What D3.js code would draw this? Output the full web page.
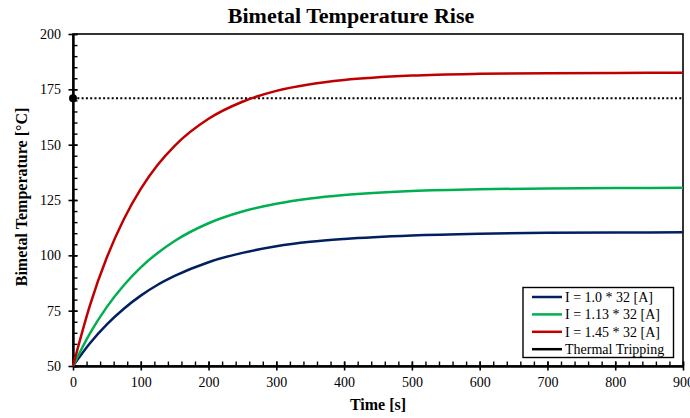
<!DOCTYPE html>
<html>
<head>
<meta charset="utf-8">
<script src="https://cdn.jsdelivr.net/npm/d3@7"></script>
<style>
  body { margin: 0; background: #fff; }
  svg { display: block; font-family: "Liberation Serif", "Times New Roman", serif; }
  .axis text { font-size: 14px; fill: #000; font-family: "Liberation Serif", "Times New Roman", serif; }
  .axis path, .axis line { stroke: #000; }
</style>
</head>
<body>
<svg id="chart" width="690" height="418"></svg>
<script>
// values
const times = [0, 25, 50, 75, 100, 125, 150, 200, 250, 300, 350, 400, 500, 600, 700, 800, 900];
const tempLow = [50, 60.3, 68.8, 75.9, 81.8, 86.7, 90.7, 96.9, 101.1, 104.1, 106.1, 107.4, 109.0, 109.8, 110.2, 110.3, 110.4];
const tempMid = [50, 64.7, 76.7, 86.5, 94.6, 101.1, 106.5, 114.5, 119.8, 123.3, 125.7, 127.3, 129.1, 129.9, 130.2, 130.4, 130.5];
const tempHigh = [50, 77.4, 99.1, 116.3, 130.0, 140.9, 149.5, 161.7, 169.4, 174.3, 177.3, 179.2, 181.2, 182.0, 182.3, 182.4, 182.5];
const trippingTemp = 171;

const seriesNames = ["I = 1.0 * 32 [A]", "I = 1.13 * 32 [A]", "I = 1.45 * 32 [A]", "Thermal Tripping"];
const seriesColors = ["#002060", "#00B050", "#C00000", "#000000"];

const xTicks = [0, 100, 200, 300, 400, 500, 600, 700, 800, 900];
const yTicks = [50, 75, 100, 125, 150, 175, 200];

const svg = d3.select("#chart");
const margin = { top: 34, right: 7, bottom: 52, left: 73 };
const width = 690 - margin.left - margin.right;
const height = 418 - margin.top - margin.bottom;

const x = d3.scaleLinear().domain([0, 900]).range([0, width]);
const y = d3.scaleLinear().domain([50, 200]).range([height, 0]);

const g = svg.append("g").attr("transform", `translate(${margin.left},${margin.top})`);

// frame
g.append("rect")
  .attr("width", width)
  .attr("height", height)
  .attr("fill", "none")
  .attr("stroke", "#000")
  .attr("stroke-width", 1.6);

// minor ticks (inside)
g.append("g")
  .attr("class", "axis")
  .attr("transform", `translate(0,${height})`)
  .call(d3.axisBottom(x).tickValues(d3.range(0, 901, 20)).tickSize(-4.5).tickFormat(""))
  .call((s) => s.select(".domain").remove())
  .selectAll("line").attr("stroke-width", 1.4);

g.append("g")
  .attr("class", "axis")
  .call(d3.axisLeft(y).tickValues(d3.range(50, 201, 5)).tickSize(-4.5).tickFormat(""))
  .call((s) => s.select(".domain").remove())
  .selectAll("line").attr("stroke-width", 1.4);

// major axes
const xAxis = g.append("g")
  .attr("class", "axis")
  .attr("transform", `translate(0,${height})`)
  .call(d3.axisBottom(x).tickValues(xTicks).tickSizeOuter(0));
xAxis.select(".domain").attr("stroke-width", 2.4);
xAxis.selectAll(".tick line").attr("y1", -4.5).attr("y2", 4.5).attr("stroke-width", 1.6);
xAxis.selectAll(".tick text").attr("y", 21).attr("dy", 0);

const yAxis = g.append("g")
  .attr("class", "axis")
  .call(d3.axisLeft(y).tickValues(yTicks).tickSizeOuter(0));
yAxis.select(".domain").attr("stroke-width", 2.4);
yAxis.selectAll(".tick line").attr("x1", -4.5).attr("x2", 4.5).attr("stroke-width", 1.6);
yAxis.selectAll(".tick text").attr("x", -12);

// thermal tripping threshold
g.append("line")
  .attr("x1", x(0))
  .attr("x2", x(900))
  .attr("y1", y(trippingTemp))
  .attr("y2", y(trippingTemp))
  .attr("stroke", "#000")
  .attr("stroke-width", 2)
  .attr("stroke-dasharray", "2,2.3");

g.append("circle")
  .attr("cx", x(0))
  .attr("cy", y(trippingTemp))
  .attr("r", 4)
  .attr("fill", "#000");

// curves
const line = d3.line()
  .x((d) => x(d[0]))
  .y((d) => y(d[1]))
  .curve(d3.curveMonotoneX);

[tempLow, tempMid, tempHigh].forEach((temps, i) => {
  g.append("path")
    .datum(times.map((t, j) => [t, temps[j]]))
    .attr("fill", "none")
    .attr("stroke", seriesColors[i])
    .attr("stroke-width", 2.5)
    .attr("d", line);
});

// titles
svg.append("text")
  .attr("x", 351)
  .attr("y", 23)
  .attr("text-anchor", "middle")
  .attr("font-size", 22)
  .attr("font-weight", "bold")
  .text("Bimetal Temperature Rise");

svg.append("text")
  .attr("x", margin.left + width / 2)
  .attr("y", 410)
  .attr("text-anchor", "middle")
  .attr("font-size", 16)
  .attr("font-weight", "bold")
  .text("Time [s]");

svg.append("text")
  .attr("transform", "translate(27,197) rotate(-90)")
  .attr("text-anchor", "middle")
  .attr("font-size", 16)
  .attr("font-weight", "bold")
  .text("Bimetal Temperature [°C]");

// legend
const legend = svg.append("g").attr("transform", "translate(523,287.5)");
legend.append("rect")
  .attr("width", 150.5)
  .attr("height", 70)
  .attr("fill", "#fff")
  .attr("stroke", "#000")
  .attr("stroke-width", 1.4);

const item = legend.selectAll("g.item")
  .data(seriesNames)
  .join("g")
  .attr("class", "item")
  .attr("transform", (_, i) => `translate(0,${9.5 + i * 17.4})`);

item.append("line")
  .attr("x1", 9)
  .attr("x2", 39)
  .attr("stroke", (_, i) => seriesColors[i])
  .attr("stroke-width", 2.5);

item.append("text")
  .attr("x", 42)
  .attr("y", 5)
  .attr("font-size", 14)
  .text((d) => d);
</script>
</body>
</html>
